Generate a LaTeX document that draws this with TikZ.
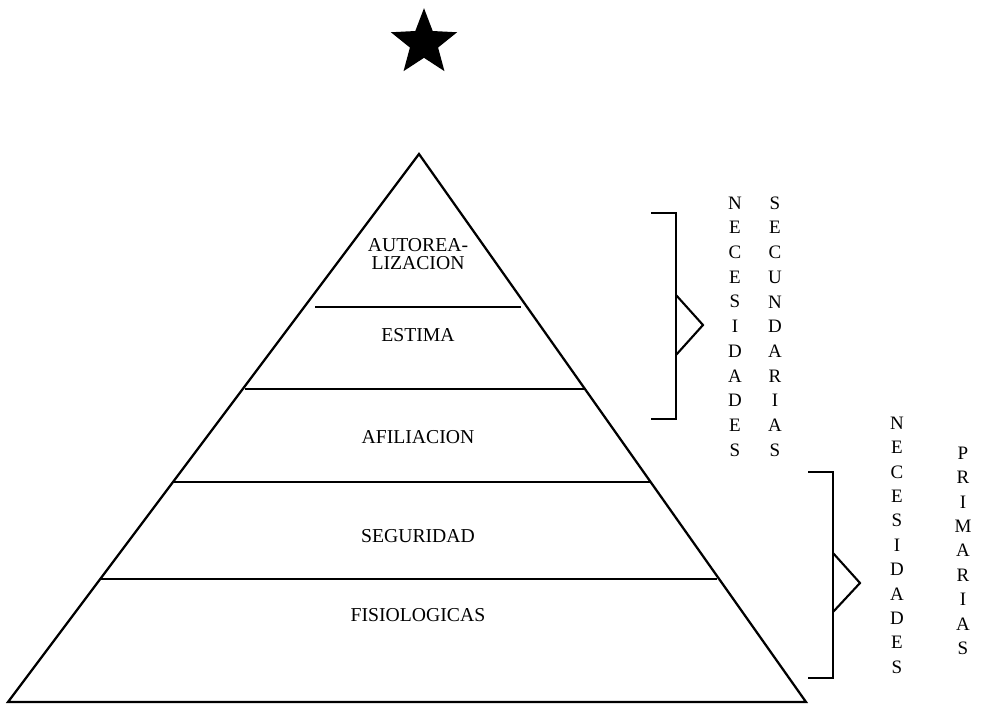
\documentclass[tikz,border=0pt]{standalone}
\usepackage{fontspec}
\setmainfont{Liberation Serif}
\usetikzlibrary{shapes.geometric, calc}
\tikzstyle{level} = [font=\fontsize{14}{12.8}\selectfont, align=center, inner sep=0pt]
\tikzstyle{letter} = [font=\fontsize{13.5}{14}\selectfont, inner sep=0pt]
\tikzstyle{outline} = [line width=1.6pt, line join=miter]
\tikzstyle{divider} = [line width=1.2pt]
\tikzstyle{brace} = [line width=1.5pt, line join=miter]

\begin{document}
\begin{tikzpicture}[x=0.025cm, y=-0.025cm]
\useasboundingbox (0,0) rectangle (981,705);

% Star
\node[star, star points=5, star point ratio=2.35, fill=black, inner sep=0pt,
      minimum size=1.74cm] (star) at (424,43) {};

% Pyramid
\coordinate (apex) at (419,154);
\coordinate (baseL) at (8,702);
\coordinate (baseR) at (806,702);
\draw[outline] (apex) -- (baseL) -- (baseR) -- cycle;

% Levels
\coordinate (d1l) at (315,307); \coordinate (d1r) at (521,307);
\coordinate (d2l) at (245,389); \coordinate (d2r) at (584,389);
\coordinate (d3l) at (173,482); \coordinate (d3r) at (651,482);
\coordinate (d4l) at (100,579); \coordinate (d4r) at (717,579);
\draw[divider] (d1l) -- (d1r);
\draw[divider] (d2l) -- (d2r);
\draw[divider] (d3l) -- (d3r);
\draw[divider] (d4l) -- (d4r);

\node[level] (auto) at (418,254) {AUTOREA-\\LIZACION};
\node[level] (estima) at (418,335) {ESTIMA};
\node[level] (afil) at (418,437) {AFILIACION};
\node[level] (segur) at (418,536) {SEGURIDAD};
\node[level] (fisio) at (418,615) {FISIOLOGICAS};

% Upper bracket
\coordinate (ub1) at (651,213); \coordinate (ub2) at (676,213);
\coordinate (ub3) at (676,419); \coordinate (ub4) at (651,419);
\coordinate (ut1) at (676,295); \coordinate (ut2) at (703,325);
\coordinate (ut3) at (676,355);
\draw[brace] (ub1) -- (ub2) -- (ub3) -- (ub4);
\draw[brace] (ut1) -- (ut2) -- (ut3);

% Lower bracket
\coordinate (lb1) at (808,472); \coordinate (lb2) at (833,472);
\coordinate (lb3) at (833,678); \coordinate (lb4) at (808,678);
\coordinate (lt1) at (833,553); \coordinate (lt2) at (860,583);
\coordinate (lt3) at (833,612);
\draw[brace] (lb1) -- (lb2) -- (lb3) -- (lb4);
\draw[brace] (lt1) -- (lt2) -- (lt3);

% Vertical labels
\foreach \ch [count=\i from 0] in {N,E,C,E,S,I,D,A,D,E,S}
  \node[letter] (nsa\i) at (735,203+24.7*\i) {\ch};
\foreach \ch [count=\i from 0] in {S,E,C,U,N,D,A,R,I,A,S}
  \node[letter] (sec\i) at (775,203+24.7*\i) {\ch};
\foreach \ch [count=\i from 0] in {N,E,C,E,S,I,D,A,D,E,S}
  \node[letter] (nsb\i) at (897,423+24.4*\i) {\ch};
\foreach \ch [count=\i from 0] in {P,R,I,M,A,R,I,A,S}
  \node[letter] (pri\i) at (963,453+24.4*\i) {\ch};

\end{tikzpicture}
\end{document}
